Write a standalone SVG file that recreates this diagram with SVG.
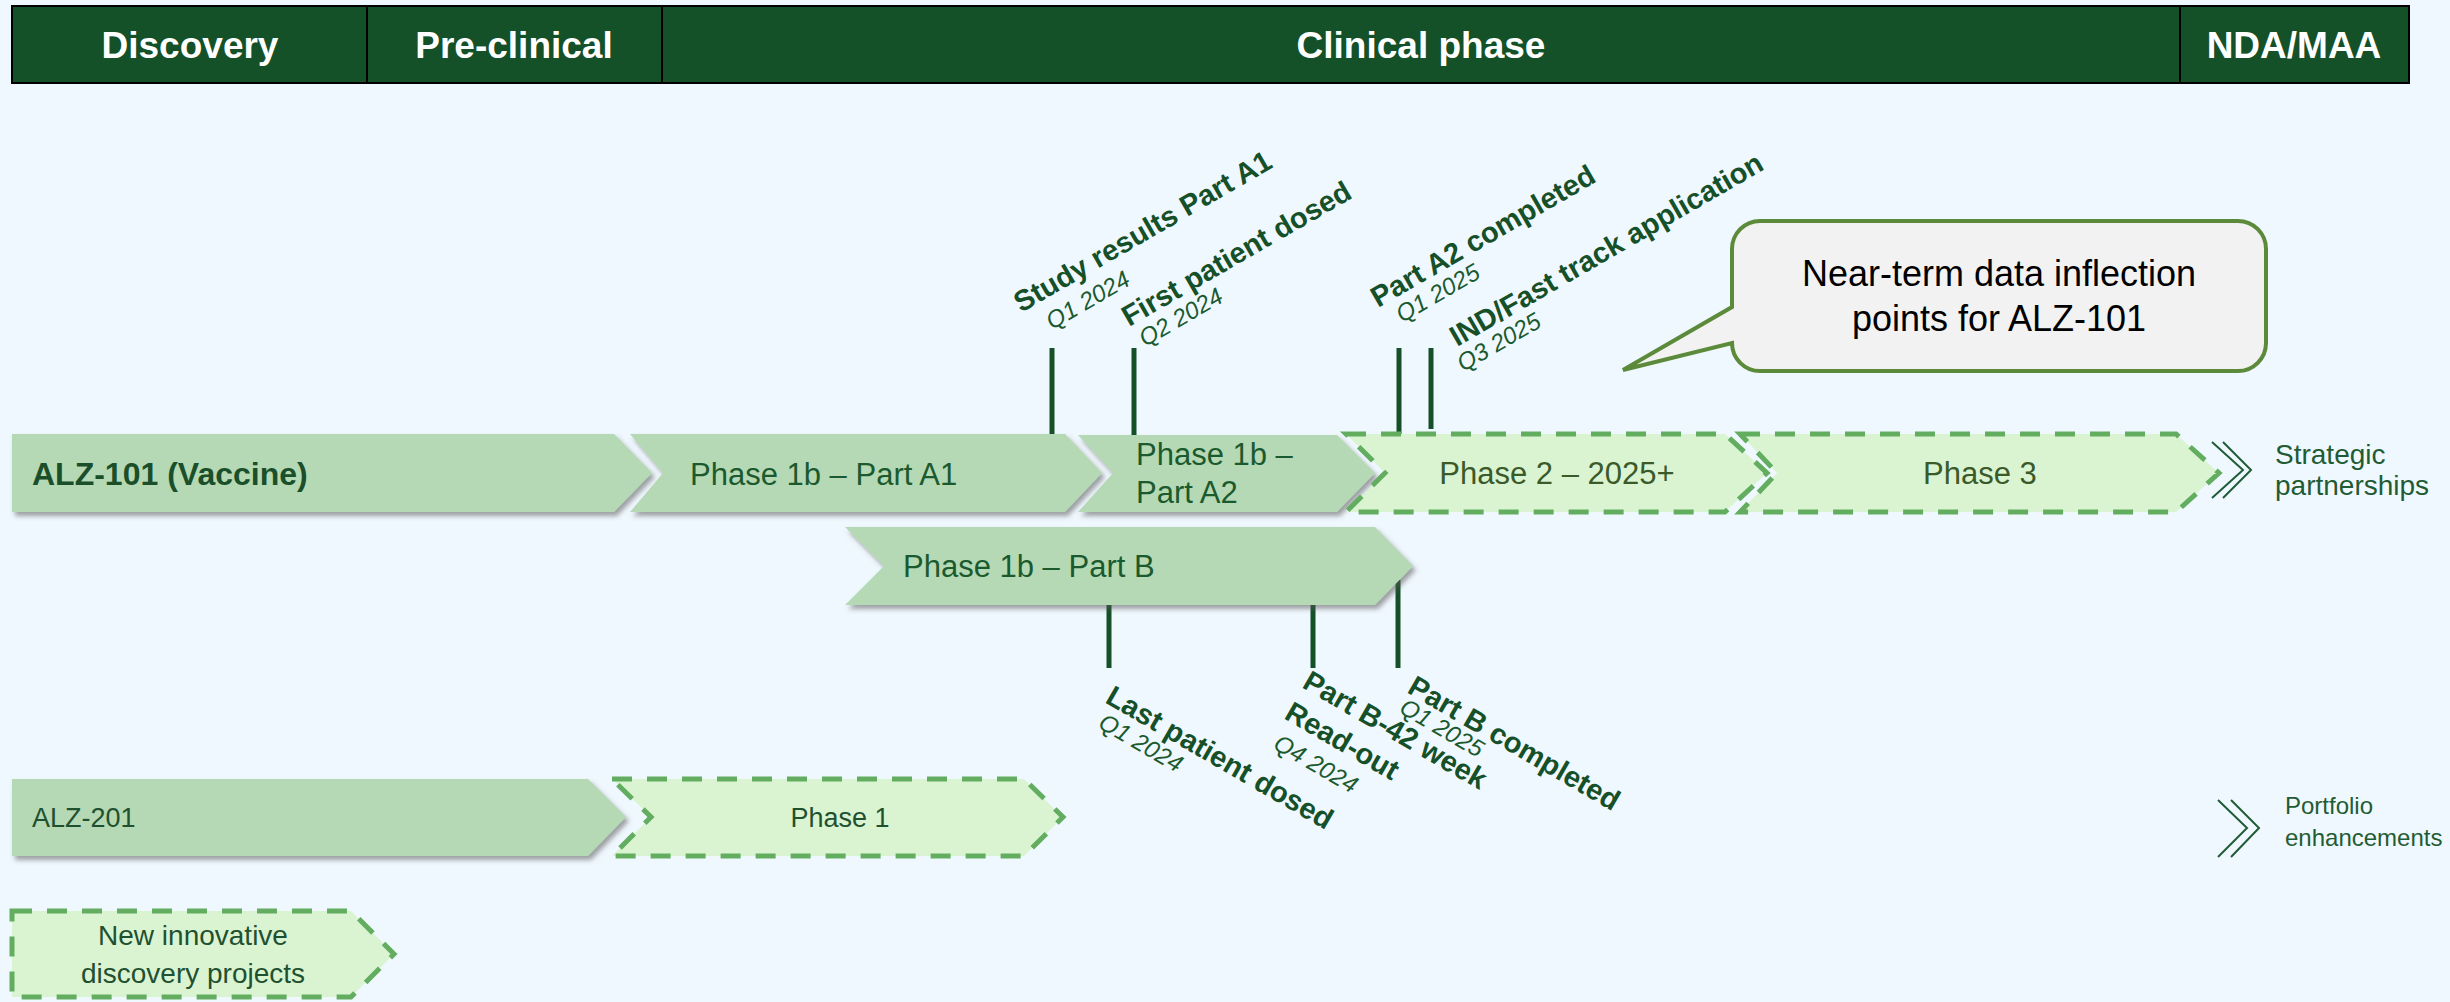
<svg xmlns="http://www.w3.org/2000/svg" width="2450" height="1002" viewBox="0 0 2450 1002">
<defs>
<style>
.hdr{font-family:"Liberation Sans",Arial,sans-serif;font-weight:bold;font-size:37px;fill:#ffffff;text-anchor:middle}
.solid{fill:#b5d9b4;filter:url(#sh)}
.dash{fill:#daf4d2;stroke:#62ad5f;stroke-width:5;stroke-dasharray:20 15;stroke-linejoin:miter}
.t31{font-family:"Liberation Sans",Arial,sans-serif;font-size:31px;fill:#1b5a2e}
.t31d{font-family:"Liberation Sans",Arial,sans-serif;font-size:31px;fill:#3b5a29;text-anchor:middle}
.t27{font-family:"Liberation Sans",Arial,sans-serif;font-size:27px;fill:#1f5130}
.ml{font-family:"Liberation Sans",Arial,sans-serif;font-weight:bold;font-size:29px;fill:#155028}
.ms{font-family:"Liberation Sans",Arial,sans-serif;font-style:italic;font-size:24px;fill:#1a5a2e}
.side{font-family:"Liberation Sans",Arial,sans-serif;font-size:25px;fill:#1f5c35}
.tick{stroke:#155028;stroke-width:5;fill:none}
.dbl{stroke:#1f5c35;stroke-width:2;fill:none}
</style>
<filter id="sh" x="-5%" y="-10%" width="115%" height="140%">
<feDropShadow dx="3" dy="4" stdDeviation="2.5" flood-color="#555555" flood-opacity="0.55"/>
</filter>
</defs>
<rect x="0" y="0" width="2450" height="1002" fill="#f0f8ff"/>

<g id="header">
<rect x="12" y="6" width="2397" height="77" fill="#145028" stroke="#000" stroke-width="2"/>
<line x1="367" y1="6" x2="367" y2="83" stroke="#000" stroke-width="2"/>
<line x1="662" y1="6" x2="662" y2="83" stroke="#000" stroke-width="2"/>
<line x1="2180" y1="6" x2="2180" y2="83" stroke="#000" stroke-width="2"/>
<text class="hdr" x="190" y="58">Discovery</text>
<text class="hdr" x="514" y="58">Pre-clinical</text>
<text class="hdr" x="1421" y="58">Clinical phase</text>
<text class="hdr" x="2294" y="58">NDA/MAA</text>
</g>

<g id="connectors">
<line class="tick" x1="1052" y1="348" x2="1052" y2="435"/>
<line class="tick" x1="1134" y1="348" x2="1134" y2="435"/>
<line class="tick" x1="1399" y1="348" x2="1399" y2="435"/>
<line class="tick" x1="1431" y1="348" x2="1431" y2="429"/>
<line class="tick" x1="1109" y1="605" x2="1109" y2="668"/>
<line class="tick" x1="1313" y1="605" x2="1313" y2="668"/>
<line class="tick" x1="1398" y1="580" x2="1398" y2="668"/>
</g>

<g id="alz101">
<polygon class="solid" points="12,434 614,434 652,473 614,512 12,512"/>
<text x="32" y="485" style="font-family:'Liberation Sans',Arial,sans-serif;font-weight:bold;font-size:32px;fill:#1a4f2a">ALZ-101 (Vaccine)</text>
</g>
<g id="phase1b-a1">
<polygon class="solid" points="630,434 1065,434 1102,473 1065,512 630,512 663,473"/>
<text class="t31" x="690" y="485">Phase 1b – Part A1</text>
</g>
<g id="phase1b-a2">
<polygon class="solid" points="1078,435 1337,435 1375,473 1337,512 1078,512 1113,473"/>
<text class="t31" x="1136" y="465">Phase 1b –</text>
<text class="t31" x="1136" y="503">Part A2</text>
</g>
<g id="phase2">
<polygon class="dash" points="1346,434 1725,434 1767,473 1725,512 1346,512 1385,473"/>
<text class="t31d" x="1557" y="484">Phase 2 – 2025+</text>
</g>
<g id="phase3">
<polygon class="dash" points="1740,434 2176,434 2219,473 2176,512 1740,512 1777,473"/>
<text class="t31d" x="1980" y="484">Phase 3</text>
</g>
<g id="strategic">
<polyline class="dbl" points="2212,442 2243,470 2212,498"/>
<polyline class="dbl" points="2223,442 2251,470 2223,498"/>
<text class="side" x="2275" y="464" style="font-size:28px">Strategic</text>
<text class="side" x="2275" y="495" style="font-size:28px">partnerships</text>
</g>

<g id="phase1b-b">
<polygon class="solid" points="845,527 1375,527 1413,566 1375,605 845,605 884,566"/>
<text class="t31" x="903" y="577">Phase 1b – Part B</text>
</g>

<g id="alz201">
<polygon class="solid" points="12,779 588,779 626,817 588,856 12,856"/>
<text class="t27" x="32" y="827">ALZ-201</text>
</g>
<g id="phase1">
<polygon class="dash" points="612,779 1024,779 1063,817 1024,856 612,856 651,817"/>
<text class="t27" x="840" y="827" text-anchor="middle">Phase 1</text>
</g>
<g id="portfolio">
<polyline class="dbl" points="2218,800 2247,828 2218,857"/>
<polyline class="dbl" points="2231,800 2259,828 2231,857"/>
<text class="side" x="2285" y="814" style="font-size:24px">Portfolio</text>
<text class="side" x="2285" y="846" style="font-size:24px">enhancements</text>
</g>

<g id="new-discovery">
<polygon class="dash" points="12,911 351,911 394,954 351,997 12,997"/>
<text class="t27" x="193" y="945" text-anchor="middle" style="font-size:28px">New innovative</text>
<text class="t27" x="193" y="983" text-anchor="middle" style="font-size:28px">discovery projects</text>
</g>

<g id="callout">
<path d="M1760,221 H2238 A28,28 0 0 1 2266,249 V343 A28,28 0 0 1 2238,371 H1760 A28,28 0 0 1 1732,343 L1623,370 L1732,307 V249 A28,28 0 0 1 1760,221 Z" fill="#f2f2f2" stroke="#5b8a3a" stroke-width="4" stroke-linejoin="miter"/>
<text x="1999" y="286" text-anchor="middle" style="font-family:'Liberation Sans',Arial,sans-serif;font-size:36px;fill:#000">Near-term data inflection</text>
<text x="1999" y="331" text-anchor="middle" style="font-family:'Liberation Sans',Arial,sans-serif;font-size:36px;fill:#000">points for ALZ-101</text>
</g>

<g id="ms-study-a1">
<text class="ml" transform="translate(1021,313) rotate(-30)">Study results Part A1</text>
<text class="ms" transform="translate(1052,330) rotate(-30)">Q1 2024</text>
</g>
<g id="ms-first-patient">
<text class="ml" transform="translate(1129,327) rotate(-30)">First patient dosed</text>
<text class="ms" transform="translate(1145,347) rotate(-30)">Q2 2024</text>
</g>
<g id="ms-a2-completed">
<text class="ml" transform="translate(1378,308) rotate(-30)">Part A2 completed</text>
<text class="ms" transform="translate(1402,323) rotate(-30)">Q1 2025</text>
</g>
<g id="ms-ind">
<text class="ml" transform="translate(1457,347) rotate(-30)">IND/Fast track application</text>
<text class="ms" transform="translate(1463,372) rotate(-30)">Q3 2025</text>
</g>
<g id="ms-last-patient">
<text class="ml" transform="translate(1104,702) rotate(30)">Last patient dosed</text>
<text class="ms" transform="translate(1097,727) rotate(30)">Q1 2024</text>
</g>
<g id="ms-readout">
<text class="ml" transform="translate(1301,687) rotate(30)">Part B-42 week</text>
<text class="ml" transform="translate(1283,718) rotate(30)">Read-out</text>
<text class="ms" transform="translate(1272,748) rotate(30)">Q4 2024</text>
</g>
<g id="ms-b-completed">
<text class="ml" transform="translate(1406,692) rotate(30)">Part B completed</text>
<text class="ms" transform="translate(1398,712) rotate(30)">Q1 2025</text>
</g>
</svg>
